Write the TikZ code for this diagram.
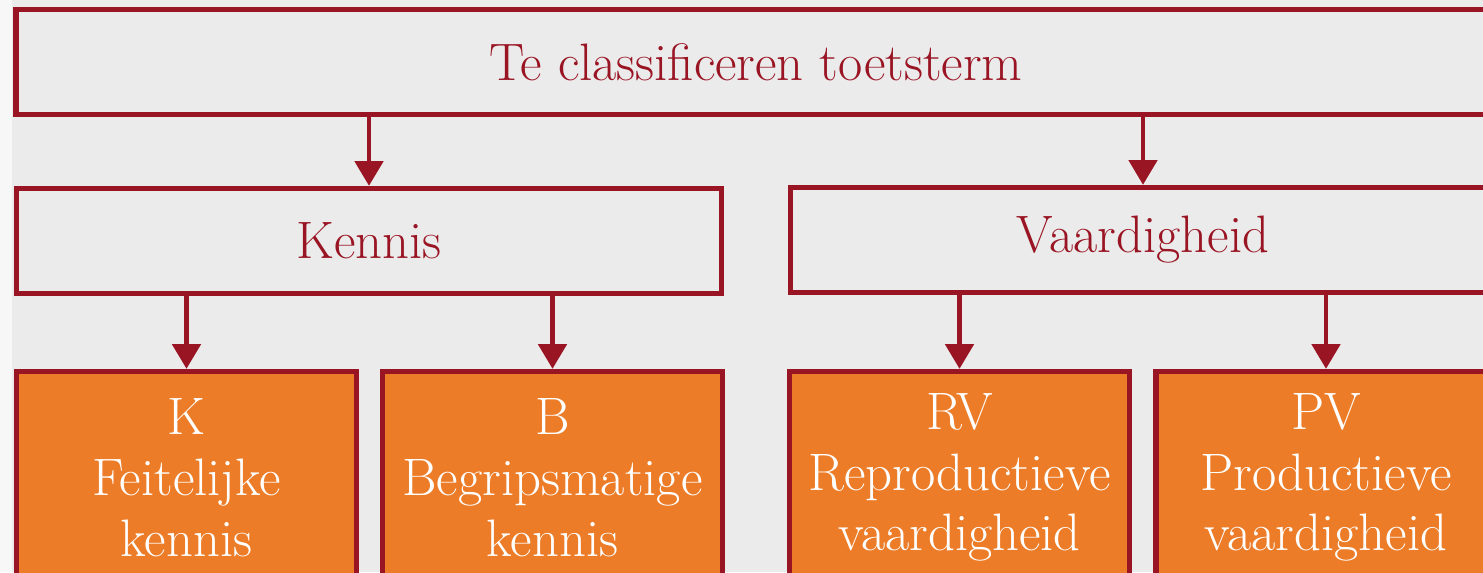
\documentclass[tikz,border=0pt]{standalone}
\usepackage{tikz}
\usetikzlibrary{arrows.meta}

\definecolor{wine}{HTML}{9A1524}
\definecolor{pumpkin}{HTML}{EC7C27}
\definecolor{paper}{HTML}{EBEBEB}

\begin{document}
\begin{tikzpicture}[x=0.02cm, y=-0.02cm,
  greybox/.style={draw=wine, line width=3.1pt, fill=paper, text=wine,
    minimum width=14.1cm, minimum height=2.1cm, inner sep=0pt,
    font=\fontsize{30}{36}\selectfont},
  orangebox/.style={draw=wine, line width=3.1pt, fill=pumpkin, text=white,
    minimum width=6.8cm, minimum height=4.24cm, inner sep=0pt, align=center,
    font=\fontsize{30}{34.6}\selectfont},
  arr/.style={draw=wine, line width=2.4pt, -{Triangle[width=16pt,length=14pt]}}]

\useasboundingbox (0,0) rectangle (1483,572);
\clip (0,0) rectangle (1483,572);
\fill[white!60!paper] (0,0) rectangle (12,572);
\fill[paper] (12,0) rectangle (1483,572);

\node[greybox, minimum width=29.6cm] (top) at (756,62) {Te classificeren toetsterm};

\node[greybox] (kennis) at (369,241) {Kennis};
\node[greybox] (vaard) at (1143,240) {Vaardigheid};

\node[orangebox] (k) at (186.5,477.5) {K\\Feitelijke\\kennis};
\node[orangebox] (b) at (552.5,477.5) {B\\Begripsmatige\\kennis};
\node[orangebox] (rv) at (959.5,477.5) {RV\\Reproductieve\\vaardigheid};
\node[orangebox] (pv) at (1326,477.5) {PV\\Productieve\\vaardigheid};

\draw[arr] (top.south -| kennis) -- (kennis.north);
\draw[arr] (top.south -| vaard) -- (vaard.north);

\draw[arr] (kennis.south -| k) -- (k.north);
\draw[arr] (kennis.south -| b) -- (b.north);
\draw[arr] (vaard.south -| rv) -- (rv.north);
\draw[arr] (vaard.south -| pv) -- (pv.north);
\end{tikzpicture}
\end{document}
